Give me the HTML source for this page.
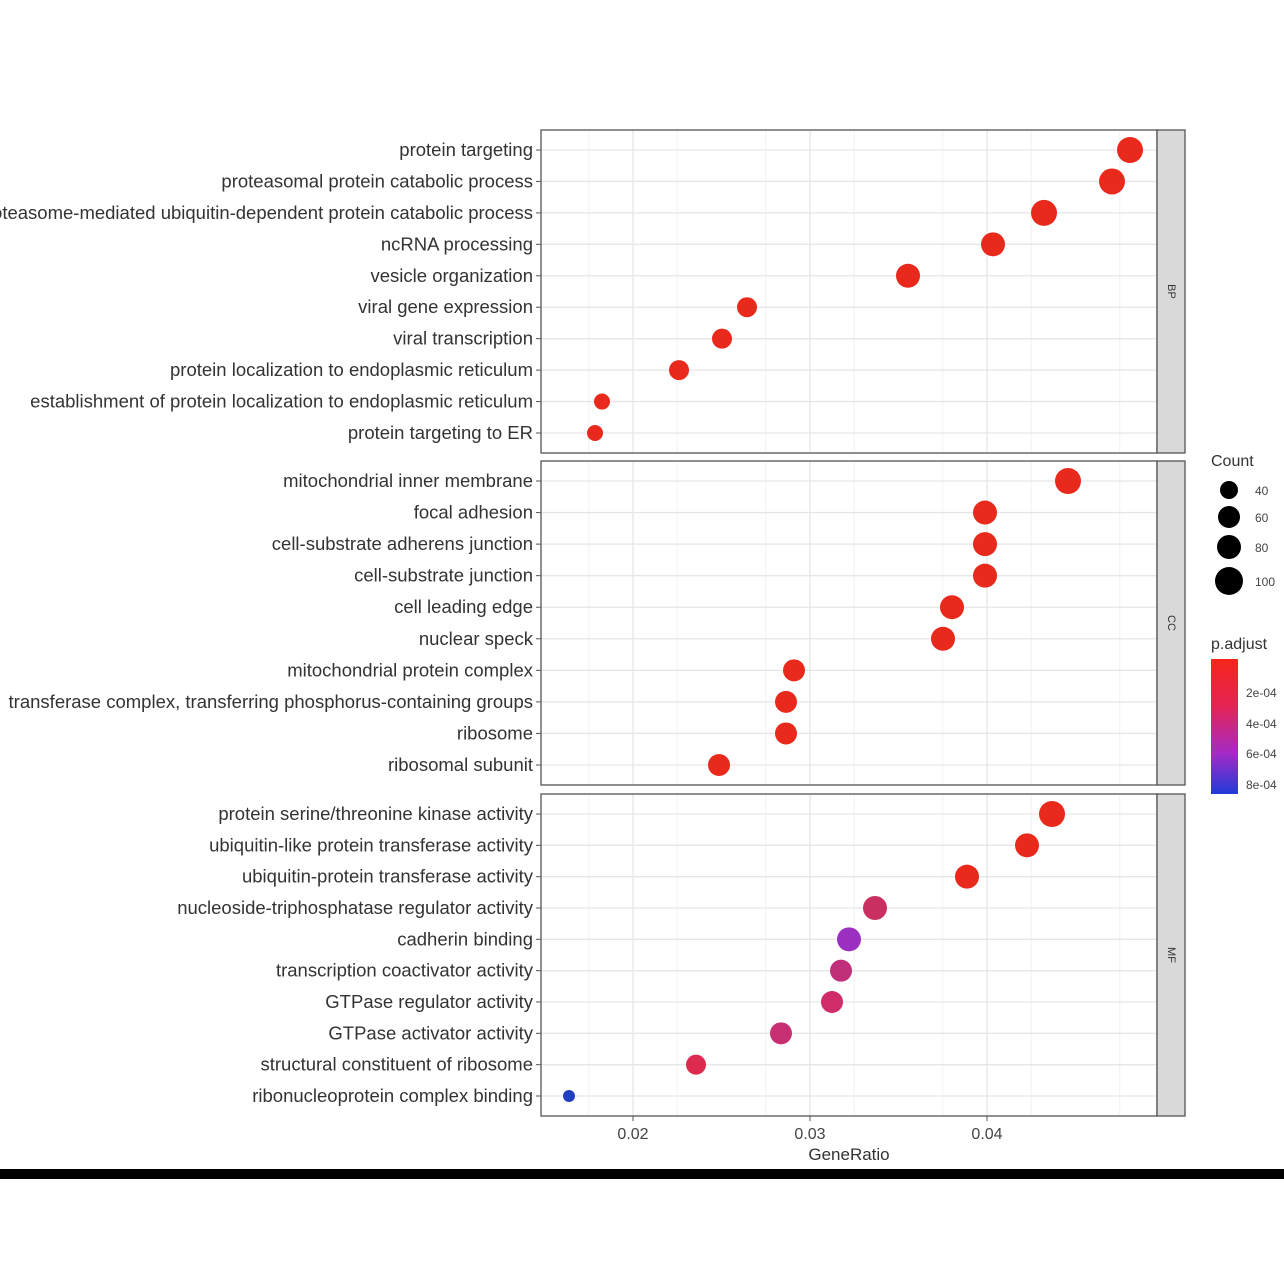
<!DOCTYPE html><html><head><meta charset="utf-8"><style>body{margin:0;background:#fff}svg{display:block}text{font-family:"Liberation Sans",sans-serif}</style></head><body>
<svg width="1284" height="1284" viewBox="0 0 1284 1284" xmlns="http://www.w3.org/2000/svg">
<defs><linearGradient id="gr" x1="0" y1="0" x2="0" y2="1"><stop offset="0" stop-color="#f5261a"/><stop offset="0.35" stop-color="#e52454"/><stop offset="0.7" stop-color="#a42bc6"/><stop offset="1" stop-color="#1f3ad9"/></linearGradient></defs>
<rect width="1284" height="1284" fill="#fff"/>
<g id="panels"></g>
<rect x="1211" y="659" width="27" height="135" fill="url(#gr)"/>
<rect x="0" y="1169" width="1284" height="10" fill="#000"/>
<script>
const NS="http://www.w3.org/2000/svg",g=document.getElementById('panels');
function el(t,a,txt){const e=document.createElementNS(NS,t);for(const k in a)e.setAttribute(k,a[k]);if(txt!=null)e.textContent=txt;g.appendChild(e);return e;}
const X=v=>633+(v-0.02)*17700;
const panels=[
{y0:130,y1:453,s:"BP",rows:[
["protein targeting",1130,13,"#e8291c"],["proteasomal protein catabolic process",1112,13,"#e8291c"],["proteasome-mediated ubiquitin-dependent protein catabolic process",1044,13,"#e8291c"],["ncRNA processing",993,12,"#e8291c"],["vesicle organization",908,12,"#e8291c"],["viral gene expression",747,10,"#e8291c"],["viral transcription",722,10,"#e8291c"],["protein localization to endoplasmic reticulum",679,10,"#e8291c"],["establishment of protein localization to endoplasmic reticulum",602,8,"#e8291c"],["protein targeting to ER",595,8,"#e8291c"]]},
{y0:461,y1:785,s:"CC",rows:[
["mitochondrial inner membrane",1068,13,"#e8291c"],["focal adhesion",985,12,"#e8291c"],["cell-substrate adherens junction",985,12,"#e8291c"],["cell-substrate junction",985,12,"#e8291c"],["cell leading edge",952,12,"#e8291c"],["nuclear speck",943,12,"#e8291c"],["mitochondrial protein complex",794,11,"#e8291c"],["transferase complex, transferring phosphorus-containing groups",786,11,"#e8291c"],["ribosome",786,11,"#e8291c"],["ribosomal subunit",719,11,"#e8291c"]]},
{y0:794,y1:1116,s:"MF",rows:[
["protein serine/threonine kinase activity",1052,13,"#e8291c"],["ubiquitin-like protein transferase activity",1027,12,"#e8291c"],["ubiquitin-protein transferase activity",967,12,"#e8291c"],["nucleoside-triphosphatase regulator activity",875,12,"#c9305f"],["cadherin binding",849,12,"#9b2fc0"],["transcription coactivator activity",841,11,"#c0307a"],["GTPase regulator activity",832,11,"#d02c6a"],["GTPase activator activity",781,11,"#c63073"],["structural constituent of ribosome",696,10,"#dd2a4f"],["ribonucleoprotein complex binding",569,6,"#2040c0"]]}];
panels.forEach(p=>{
 el('rect',{x:541,y:p.y0,width:616,height:p.y1-p.y0,fill:"#fff"});
 [0.0175,0.0225,0.0275,0.0325,0.0375,0.0425,0.0475].forEach(v=>el('line',{x1:X(v),x2:X(v),y1:p.y0,y2:p.y1,stroke:"#f2f2f2","stroke-width":1}));
 [0.02,0.03,0.04].forEach(v=>el('line',{x1:X(v),x2:X(v),y1:p.y0,y2:p.y1,stroke:"#e6e6e6","stroke-width":1.3}));
 const step=(p.y1-p.y0-40)/9;
 p.rows.forEach((r,i)=>{const y=p.y0+20+i*step;
  el('line',{x1:541,x2:1157,y1:y,y2:y,stroke:"#e6e6e6","stroke-width":1.3});
  el('line',{x1:536,x2:541,y1:y,y2:y,stroke:"#555"});
  el('text',{x:533,y:y+6,"text-anchor":"end","font-size":18.5,fill:"#333"},r[0]);
 });
 p.rows.forEach((r,i)=>{const y=p.y0+20+i*step;el('circle',{cx:r[1],cy:y,r:r[2],fill:r[3]});});
 el('rect',{x:541,y:p.y0,width:616,height:p.y1-p.y0,fill:"none",stroke:"#555","stroke-width":1.3});
 el('rect',{x:1157,y:p.y0,width:28,height:p.y1-p.y0,fill:"#d9d9d9",stroke:"#555","stroke-width":1.3});
 const cy=(p.y0+p.y1)/2;el('text',{x:1171,y:cy,"font-size":11,fill:"#333","text-anchor":"middle",transform:`rotate(90 1171 ${cy})`,"dominant-baseline":"middle"},p.s);
});
[0.02,0.03,0.04].forEach(v=>{el('line',{x1:X(v),x2:X(v),y1:1116,y2:1121,stroke:"#555"});el('text',{x:X(v),y:1139,"text-anchor":"middle","font-size":16,fill:"#444"},v.toFixed(2));});
el('text',{x:849,y:1160,"text-anchor":"middle","font-size":17,fill:"#333"},"GeneRatio");
el('text',{x:1211,y:466,"font-size":16,fill:"#333"},"Count");
[[490,9,"40"],[517,11,"60"],[547,12,"80"],[581,14,"100"]].forEach(a=>{el('circle',{cx:1229,cy:a[0],r:a[1],fill:"#000"});el('text',{x:1255,y:a[0]+5,"font-size":12,fill:"#444"},a[2]);});
el('text',{x:1211,y:649,"font-size":16,fill:"#333"},"p.adjust");
[[692,"2e-04"],[723,"4e-04"],[753,"6e-04"],[784,"8e-04"]].forEach(a=>el('text',{x:1246,y:a[0]+5,"font-size":12,fill:"#444"},a[1]));
</script>
</svg></body></html>
